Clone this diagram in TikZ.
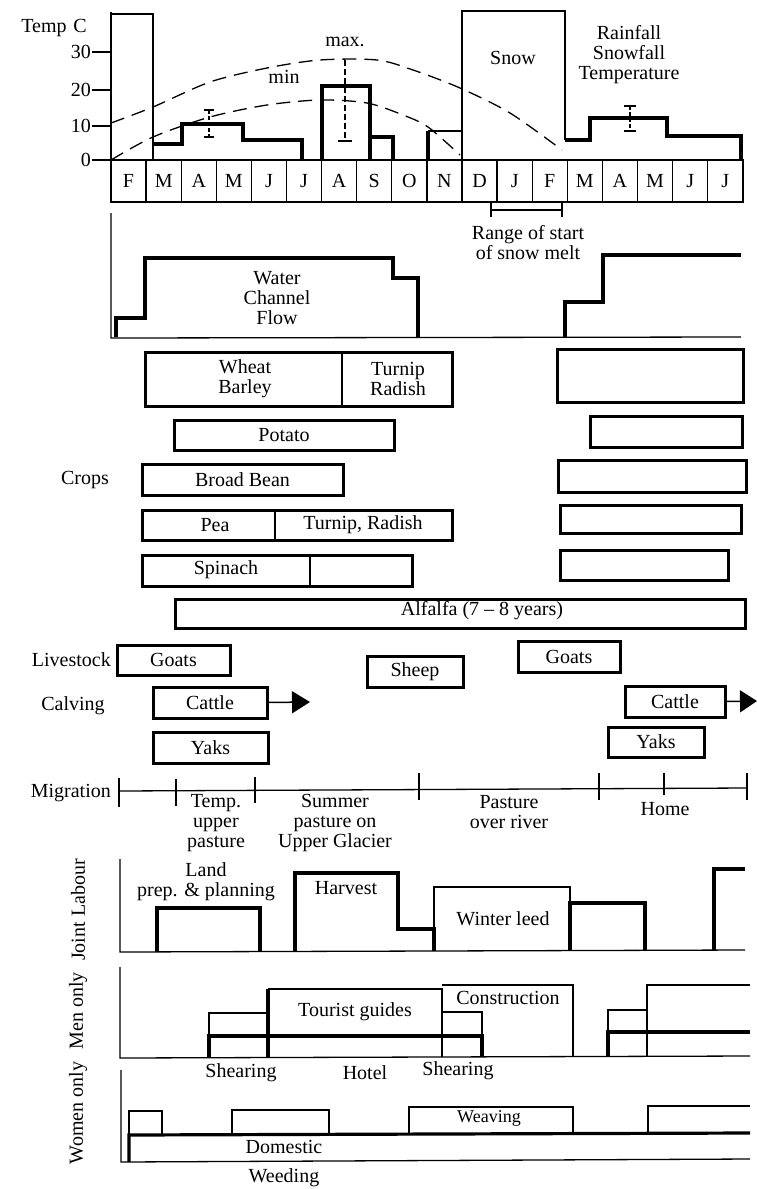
\documentclass[tikz,border=0pt]{standalone}
\usepackage{fontspec}
\setmainfont{Liberation Serif}
\usetikzlibrary{arrows.meta}
\newcommand\mybox[7][]{\node[cbox,minimum width={(#5-#3)*1pt},minimum height={(#6-#4)*1pt},#1] (#2) at ({(#3+#5)/2},{(#4+#6)/2}) {#7};}
\begin{document}
\begin{tikzpicture}[x=1pt,y=-1pt,
  lbl/.style={font=\fontsize{20}{20}\selectfont, inner sep=0pt, align=center},
  thk/.style={line width=3.2pt, line join=miter},
  thn/.style={line width=1.3pt},
  med/.style={line width=2pt},
  dsh/.style={line width=1.3pt, dash pattern=on 14pt off 8pt},
  cbox/.style={draw, line width=3pt, inner sep=0pt, outer sep=0pt, font=\fontsize{20}{20}\selectfont, align=center},
]
\useasboundingbox (0,0) rectangle (756,1189);
% ---------------- Temperature / rainfall chart
\node[lbl] (tempc) at (54,28) {Temp\,\,C};
\draw[med] (111,12) -- (111,202);
\foreach \v/\y in {30/52,20/90,10/126,0/160}{
  \draw[thn] (92,\y) -- (111,\y);
  \node[lbl, anchor=east] (t\v) at (91,\y) {\v};
}
% month boxes
\draw[thn] (111,160) rectangle (743,202);
\foreach \i in {1,...,17} \draw[thn] ({111+35.1*\i},160) -- ++(0,42);
\foreach \m [count=\i from 0] in {F,M,A,M,J,J,A,S,O,N,D,J,F,M,A,M,J,J}
  \node[lbl] (m\i) at ({111+35.1*\i+17.55},181) {\m};
% F bar
\draw[med] (111,14) -- (153,14) -- (153,160);
% rainfall steps
\draw[thk] (153,144) -- (182,144) -- (182,124) -- (243,124) -- (243,140) -- (302,140) -- (302,160);
\draw[thk] (322,160) -- (322,86) -- (370,86) -- (370,160);
\draw[thk] (370,137) -- (393,137) -- (393,160);
\draw[thk] (428,160) -- (428,131);
\draw[thn] (428,131) -- (462,131);
% snow
\draw[thn] (462,160) -- (462,11) -- (565,11) -- (565,140);
\node[lbl] (snow) at (513,58) {Snow};
\draw[thk] (565,140) -- (590,140) -- (590,118) -- (667,118) -- (667,136) -- (741,136) -- (741,160);
\node[lbl] (rst) at (629,55) {Rainfall\\Snowfall\\Temperature};
% temperature curves
\draw[dsh] plot[smooth] coordinates {(111,123) (153,107) (210,82) (267,68) (320,60) (377,60) (413,70) (460,88) (510,113) (562,150)};
\draw[dsh] plot[smooth] coordinates {(111,160) (153,137) (210,117) (267,105) (320,100) (367,103) (403,115) (428,127) (460,155)};
\node[lbl] (max) at (345,42) {max.};
\node[lbl] (min) at (284,77) {min};
% error bars
\draw[thn, dash pattern=on 4pt off 2pt] (209,110) -- (209,137);
\draw[thn] (204,110) -- (214,110) (204,137) -- (214,137);
\draw[thn, dash pattern=on 6pt off 3pt] (345,60) -- (345,141);
\draw[thn] (338,141) -- (352,141);
\draw[thn, dash pattern=on 4pt off 2pt] (630,106) -- (630,131);
\draw[thn] (624,106) -- (636,106) (624,131) -- (636,131);
% range of snow melt
\draw[thn] (491,210) -- (562,210) (491,203) -- (491,217) (562,203) -- (562,217);
\node[lbl] (range) at (528,243) {Range of start\\of snow melt};
% ---------------- Water channel flow
\draw[thn] (111,213) -- (111,338) -- (741,337);
\draw[thk] (116,337) -- (116,318) -- (145,318) -- (145,258) -- (393,258) -- (393,278) -- (418,278) -- (418,337);
\draw[thk] (565,337) -- (565,302) -- (603,302) -- (603,255) -- (741,255);
\node[lbl] (water) at (277,298) {Water\\Channel\\Flow};
% ---------------- Crops
\node[lbl] (crops) at (85,480) {Crops};
\mybox{wheat}{145}{352}{452}{406}{}
\draw[thn] (342,352) -- (342,406);
\node[lbl] (wb) at (245,379) {Wheat\\Barley};
\node[lbl] (tr) at (398,379) {Turnip\\Radish};
\mybox{wheatR}{557}{349}{743}{402}{}
\mybox{potato}{174}{420}{394}{450}{Potato}
\mybox{potatoR}{590}{416}{742}{447}{}
\mybox{bean}{142}{464}{343}{495}{Broad Bean}
\mybox{beanR}{558}{460}{746}{492}{}
\mybox{pea}{142}{510}{452}{540}{}
\draw[thn] (275,510) -- (275,540);
\node[lbl] (peat) at (215,525) {Pea};
\node[lbl] (trt) at (363,525) {Turnip, Radish};
\mybox{peaR}{560}{505}{741}{533}{}
\mybox{spin}{142}{555}{412}{586}{}
\draw[thn] (310,555) -- (310,586);
\node[lbl] (spint) at (226,570) {Spinach};
\mybox{spinR}{560}{550}{728}{580}{}
\mybox{alf}{175}{599}{745}{628}{}
\node[lbl] (alft) at (482,611) {Alfalfa (7 -- 8 years)};
% ---------------- Livestock
\node[lbl, anchor=east] (lvs) at (111,660) {Livestock};
\node[lbl] (calv) at (73,706) {Calving};
\mybox{goatsL}{117}{645}{230}{675}{Goats}
\mybox{cattleL}{153}{687}{267}{718}{Cattle}
\mybox{yaksL}{153}{732}{268}{763}{Yaks}
\mybox{sheep}{367}{656}{463}{687}{Sheep}
\mybox{goatsR}{518}{641}{620}{672}{Goats}
\mybox{cattleR}{625}{686}{725}{717}{Cattle}
\mybox{yaksR}{608}{727}{704}{757}{Yaks}
\coordinate (arrL) at (310,702);
\coordinate (arrR) at (757,701);
\draw[line width=1.5pt, -{Triangle[length=18pt,width=22pt]}] (cattleL.east) -- (arrL);
\draw[line width=1.5pt, -{Triangle[length=17pt,width=22pt]}] (cattleR.east) -- (arrR);
% ---------------- Migration
\node[lbl, anchor=east] (migr) at (111,793) {Migration};
\draw[thn] (119,791) -- (747,788);
\foreach \x/\a/\b in {119/778/807,176/779/806,255/777/803,419/773/800,599/773/800,664/773/795,747/773/800}
  \draw[line width=2.4pt] (\x,\a) -- (\x,\b);
\node[lbl] (tup) at (216,823) {Temp.\\upper\\pasture};
\node[lbl] (summ) at (335,823) {Summer\\pasture on\\Upper Glacier};
\node[lbl] (povr) at (509,812) {Pasture\\over river};
\node[lbl] (home) at (665,809) {Home};
% ---------------- Joint labour
\node[lbl, rotate=90] (jl) at (78,910) {Joint Labour};
\draw[thn] (120,859) -- (120,952) -- (745,950);
\draw[thk] (157,951) -- (157,908) -- (260,908) -- (260,951);
\node[lbl] (land) at (206,882) {Land\\prep. \& planning};
\draw[thk] (295,951) -- (295,873) -- (398,873) -- (398,929) -- (434,929) -- (434,951);
\node[lbl] (harv) at (346,888) {Harvest};
\draw[thn] (434,929) -- (434,887) -- (570,887) -- (570,903);
\draw[thk] (570,950) -- (570,903) -- (645,903) -- (645,950);
\node[lbl] (wint) at (503,919) {Winter leed};
\draw[thk] (714,950) -- (714,869) -- (745,869);
% ---------------- Men only
\node[lbl, rotate=90] (mo) at (78,1011) {Men only};
\draw[thn] (120,967) -- (120,1058) -- (750,1056);
\draw[thn] (209,1036) -- (209,1013) -- (268,1013);
\draw[thn] (268,989) -- (442,989) -- (442,1057);
\draw[thn] (442,1012) -- (482,1012) -- (482,1036);
\draw[thn] (442,985) -- (573,985) -- (573,1057);
\draw[thk] (268,989) -- (268,1057);
\draw[thk] (209,1057) -- (209,1036) -- (482,1036) -- (482,1057);
\node[lbl] (tour) at (355,1012) {Tourist guides};
\node[lbl] (constr) at (508,998) {Construction};
\node[lbl] (shear1) at (241,1073) {Shearing};
\node[lbl] (hotel) at (365,1073) {Hotel};
\node[lbl] (shear2) at (458,1071) {Shearing};
\draw[thn] (608,1032) -- (608,1010) -- (647,1010);
\draw[thn] (647,1056) -- (647,985) -- (750,985);
\draw[thk] (608,1056) -- (608,1032) -- (750,1032);
% ---------------- Women only
\node[lbl, rotate=90] (wo) at (78,1113) {Women only};
\draw[thn] (121,1070) -- (121,1162) -- (750,1159);
\draw[thk] (129,1162) -- (129,1135) -- (750,1133);
\draw[thn] (129,1135) -- (129,1111) -- (162,1111) -- (162,1135);
\draw[thn] (232,1134) -- (232,1110) -- (329,1110) -- (329,1134);
\draw[thn] (409,1133) -- (409,1107) -- (573,1107) -- (573,1133);
\draw[thn] (648,1133) -- (648,1106) -- (750,1106);
\node[lbl, font=\fontsize{18}{20}\selectfont] (weav) at (489,1118) {Weaving};
\node[lbl] (dom) at (284,1147) {Domestic};
\node[lbl] (weed) at (284,1178) {Weeding};
\end{tikzpicture}
\end{document}
